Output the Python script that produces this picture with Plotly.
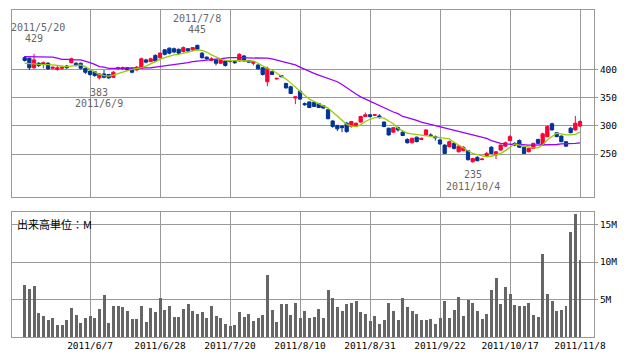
import plotly.graph_objects as go

# ---- data ----
dates = ["5/18","5/19","5/20","5/23","5/24","5/25","5/26","5/27","5/30","5/31",
         "6/1","6/2","6/3","6/6","6/7","6/8","6/9","6/10","6/13","6/14",
         "6/15","6/16","6/17","6/20","6/21","6/22","6/23","6/24","6/27","6/28",
         "6/29","6/30","7/1","7/4","7/5","7/6","7/7","7/8","7/11","7/12",
         "7/13","7/14","7/15","7/19","7/20","7/21","7/22","7/25","7/26","7/27",
         "7/28","7/29","8/1","8/2","8/3","8/4","8/5","8/8","8/9","8/10",
         "8/11","8/12","8/15","8/16","8/17","8/18","8/19","8/22","8/23","8/24",
         "8/25","8/26","8/29","8/30","8/31","9/1","9/2","9/5","9/6","9/7",
         "9/8","9/9","9/12","9/13","9/14","9/15","9/16","9/20","9/21","9/22",
         "9/26","9/27","9/28","9/29","9/30","10/3","10/4","10/5","10/6","10/7",
         "10/11","10/12","10/13","10/14","10/17","10/18","10/19","10/20","10/21","10/24",
         "10/25","10/26","10/27","10/28","10/31","11/1","11/2","11/4","11/7","11/8"]

open_ = [422,421,404,412,410,412,403,401,403,407,413,412,412,403,398,397,386,393,392,387,
         402,402,404,403,400,403,418,415,426,422,436,439,438,437,433,438,436,444,430,423,
         417,418,412,416,415,415,416,425,417,412,409,404,379,397,384,390,376,370,350,362,
         340,343,342,340,336,329,309,301,300,305,299,299,307,317,320,319,318,307,296,289,
         297,289,276,270,280,276,284,284,281,275,266,263,269,254,256,256,236,244,240,247,
         262,248,257,264,274,269,274,262,254,260,276,266,281,304,288,282,272,296,293,300]
high = [425,422,429,414,415,414,406,407,406,409,422,414,413,404,399,398,394,400,393,398,
        406,406,405,405,407,422,420,422,428,432,437,440,440,438,442,439,441,445,432,424,
        423,419,419,417,418,416,430,427,418,416,410,405,406,398,386,391,377,372,353,363,
        342,344,343,341,337,330,310,302,301,307,309,306,318,324,321,321,321,308,297,298,
        299,291,278,279,281,279,294,287,283,277,267,274,271,266,264,257,243,246,242,254,
        264,255,267,272,284,271,276,263,261,270,277,288,301,306,289,283,273,298,318,310]
low = [415,400,402,405,403,400,401,399,400,402,412,406,401,393,390,388,383,385,384,386,
       401,400,398,394,399,402,412,414,414,420,426,428,430,428,431,432,434,436,420,418,
       416,408,411,406,413,411,415,415,413,408,401,390,371,391,383,387,367,357,339,347,
       336,332,334,332,331,312,297,291,289,288,297,298,306,316,315,318,313,298,283,288,
       290,282,269,269,271,275,283,281,274,266,250,262,258,253,255,238,235,237,239,245,
       250,241,256,263,273,264,261,250,253,259,268,265,280,292,280,271,263,287,292,298]
close = [417,404,418,408,413,402,405,404,405,404,420,408,403,396,392,390,393,387,386,396,
         404,404,400,396,405,420,414,420,416,430,428,430,432,430,440,434,440,437,422,420,
         420,412,418,408,417,413,428,416,414,415,402,392,403,392,385,388,368,358,352,348,
         338,333,335,333,332,313,299,295,297,290,308,305,317,320,317,320,316,299,284,297,
         293,283,270,278,272,278,293,283,279,268,251,272,260,264,262,240,242,238,241,251,
         251,254,266,270,281,266,262,251,260,269,269,286,299,293,281,272,264,288,305,308]

ma_short = [412,412,411,410,410,409,409,408,407,406,407,408,409,406,401,396,392,390,389,391,
            394,397,399,401,402,404,407,411,416,419,422,425,427,428,430,432,434,436,435,432,
            427,423,420,417,417,416,416,416,416,416,412,407,403,400,395,390,384,377,369,362,
            355,348,344,340,336,332,325,318,310,303,300,299,302,308,312,315,315,314,309,304,
            296,292,287,286,285,284,283,282,281,280,279,277,271,266,261,256,251,249,247,245,
            246,248,251,256,262,268,266,264,263,261,261,266,275,281,287,286,284,284,285,289]
ma_long = [424,424,424,424,424,424,423,421,419,419,418,418,418,416,413,410,406,405,403,403,
           403,403,403,403,403,403,404,404,405,406,407,408,409,410,412,413,415,416,417,418,
           419,420,420,421,422,422,422,422,422,422,422,421,421,420,418,416,413,411,409,405,
           401,397,394,391,388,385,382,379,374,368,363,357,352,348,344,341,337,333,329,325,
           322,317,315,313,310,307,305,303,301,299,297,295,293,291,289,287,284,282,280,278,
           274,271,269,268,267,267,267,266,266,266,266,266,266,267,267,268,268,269,269,270]

volume = [6.9,6.4,6.8,3.2,2.8,2.3,2.5,1.6,1.6,2.3,3.9,2.9,1.9,2.5,2.8,2.5,3.7,5.6,1.9,4.1,
          4.1,4.0,3.5,2.4,2.4,4.1,2.0,3.9,3.3,5.2,3.6,4.1,2.7,2.7,3.7,4.4,3.5,3.1,3.3,2.5,
          4.1,2.8,2.5,1.7,1.5,1.6,3.3,2.7,3.1,2.2,2.5,2.9,8.3,3.6,2.0,4.4,4.4,2.9,4.5,2.5,
          3.5,2.5,2.7,3.7,2.5,6.3,5.2,4.0,3.5,4.4,4.5,4.8,3.3,3.1,2.2,2.8,1.7,2.3,4.5,3.5,
          2.3,5.2,4.0,3.5,3.1,2.3,2.3,2.4,1.7,2.5,4.8,2.5,3.6,5.3,2.8,5.0,4.6,3.5,2.4,3.1,
          6.3,7.9,4.4,6.7,5.7,4.3,4.1,4.1,4.6,2.9,2.7,11.1,5.7,4.8,3.5,3.6,4.1,14.0,16.4,10.3]

tick_dates = ["6/7", "6/28", "7/20", "8/10", "8/31", "9/22", "10/17", "11/8"]
price_ticks = [250, 300, 350, 400]
vol_ticks = [5, 10, 15]
vol_labels = ["5M", "10M", "15M"]

# labelled extremes: (date, value, position)
marks = [("5/20", 429, "above"), ("7/8", 445, "above"),
         ("6/9", 383, "below"), ("10/4", 235, "below")]

# ---- figure ----
idx = list(range(len(dates)))
tickvals = [dates.index(d) for d in tick_dates]
ticktext = ["2011/" + d for d in tick_dates]

RED = "#ff0033"
BLUE = "#003399"
GRID = "#999999"
MONO = "DejaVu Sans Mono"

fig = go.Figure()
fig.add_trace(go.Candlestick(
    x=idx, open=open_, high=high, low=low, close=close,
    increasing=dict(line=dict(color=RED, width=1), fillcolor=RED),
    decreasing=dict(line=dict(color=BLUE, width=1), fillcolor=BLUE),
    whiskerwidth=0, xaxis="x", yaxis="y", showlegend=False))
fig.add_trace(go.Scatter(x=idx, y=ma_long, mode="lines",
                         line=dict(color="#9900ff", width=1.3),
                         xaxis="x", yaxis="y", showlegend=False))
fig.add_trace(go.Scatter(x=idx, y=ma_short, mode="lines",
                         line=dict(color="#99cc00", width=1.3),
                         xaxis="x", yaxis="y", showlegend=False))
fig.add_trace(go.Bar(x=idx, y=volume, marker=dict(color="#666666", line=dict(width=0)),
                     width=0.64, xaxis="x2", yaxis="y2", showlegend=False))

xr = [-2.72, 122.0]
axis_common = dict(showline=True, mirror=True, linecolor=GRID, linewidth=1,
                   showgrid=True, gridcolor=GRID, gridwidth=1, zeroline=False)

# page body has an 8px default margin, so the figure is sized 8px smaller
fig.update_layout(
    width=630, height=354,
    margin=dict(l=4, r=44, t=2, b=25),
    paper_bgcolor="white", plot_bgcolor="white",
    boxgap=0.3, boxgroupgap=0.0,
    bargap=0,
    xaxis=dict(domain=[0, 1], anchor="y", range=xr, tickvals=tickvals,
               showticklabels=False, ticks="", rangeslider=dict(visible=False),
               **axis_common),
    xaxis2=dict(domain=[0, 1], anchor="y2", range=xr, tickvals=tickvals,
                ticktext=ticktext, ticks="", matches="x",
                tickfont=dict(family=MONO, size=9.5, color="#000000"),
                **axis_common),
    yaxis=dict(domain=[0.4281, 1.0], anchor="x", side="right",
               range=[173.2, 507.1], tickvals=price_ticks,
               ticks="outside", ticklen=3, tickcolor=GRID,
               tickfont=dict(family=MONO, size=9.5, color="#000000"),
               **axis_common),
    yaxis2=dict(domain=[0.0, 0.3823], anchor="x2", side="right",
                range=[0, 16.67], tickvals=vol_ticks, ticktext=vol_labels,
                ticks="outside", ticklen=3, tickcolor=GRID,
                tickfont=dict(family=MONO, size=9.5, color="#000000"),
                **axis_common),
)

annotations = []
for d, v, pos in marks:
    i = dates.index(d)
    s1, s2 = (15, 26) if pos == "above" else (-12.5, -24)
    dx = 4 if d == "5/20" else 0
    annotations.append(dict(x=i, y=v, xref="x", yref="y", text=str(v),
                            showarrow=False, yshift=s1, xanchor="center", yanchor="middle",
                            font=dict(family=MONO, size=10, color="#666666")))
    annotations.append(dict(x=i, y=v, xref="x", yref="y", text="2011/" + d,
                            showarrow=False, yshift=s2, xshift=dx,
                            xanchor="center", yanchor="middle",
                            font=dict(family=MONO, size=10, color="#666666")))
annotations.append(dict(x=0.005, y=16.67, xref="paper", yref="y2",
                        text="出来高単位：M", showarrow=False,
                        xanchor="left", yanchor="top", yshift=-2,
                        font=dict(family="Noto Sans CJK JP", size=11, color="#000000")))
fig.update_layout(annotations=annotations)

fig.write_html("out.html")
